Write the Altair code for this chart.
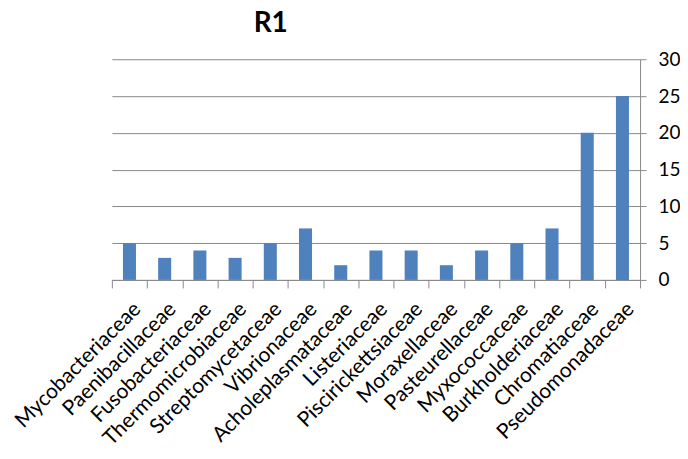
import altair as alt
import pandas as pd

families = [
    "Mycobacteriaceae", "Paenibacillaceae", "Fusobacteriaceae", "Thermomicrobiaceae",
    "Streptomycetaceae", "Vibrionaceae", "Acholeplasmataceae", "Listeriaceae",
    "Piscirickettsiaceae", "Moraxellaceae", "Pasteurellaceae", "Myxococcaceae",
    "Burkholderiaceae", "Chromatiaceae", "Pseudomonadaceae",
]
counts = [5, 3, 4, 3, 5, 7, 2, 4, 4, 2, 4, 5, 7, 20, 25]
y_ticks = [0, 5, 10, 15, 20, 25, 30]

df = pd.DataFrame({"family": families, "count": counts})

FONT = "Lato"
GREY = "#8a8a8a"

chart = (
    alt.Chart(df)
    .mark_bar(color="#4F81BD", width=alt.RelativeBandSize(0.37))
    .encode(
        x=alt.X(
            "family:N",
            sort=families,
            scale=alt.Scale(paddingInner=0, paddingOuter=0),
            axis=alt.Axis(
                title=None,
                labelAngle=-45,
                labelAlign="right",
                labelBaseline="top",
                tickBand="extent",
                tickSize=8,
                tickColor=GREY,
                domainColor=GREY,
                labelFont=FONT,
                labelFontSize=21,
                labelColor="black",
                labelPadding=10,
                labelOverlap=False,
                labelLimit=0,
            ),
        ),
        y=alt.Y(
            "count:Q",
            scale=alt.Scale(domain=[0, 30], nice=False),
            axis=alt.Axis(
                orient="right",
                title=None,
                values=y_ticks,
                grid=True,
                gridColor=GREY,
                gridOpacity=1,
                domainColor=GREY,
                tickColor=GREY,
                tickSize=6,
                labelPadding=12,
                labelFont=FONT,
                labelFontSize=19,
                labelColor="black",
            ),
        ),
    )
    .properties(
        width=529,
        height=221,
        title=alt.TitleParams(
            "R1",
            anchor="start",
            frame="group",
            dx=142,
            fontSize=28,
            font=FONT,
            fontWeight="bold",
            color="black",
            offset=12,
        ),
        autosize=alt.AutoSizeParams(type="none"),
        padding={"left": 104, "top": 51, "right": 40, "bottom": 164},
    )
    .configure_view(stroke=None)
)

chart.save("out.html", embed_options={"renderer": "svg", "actions": False})
